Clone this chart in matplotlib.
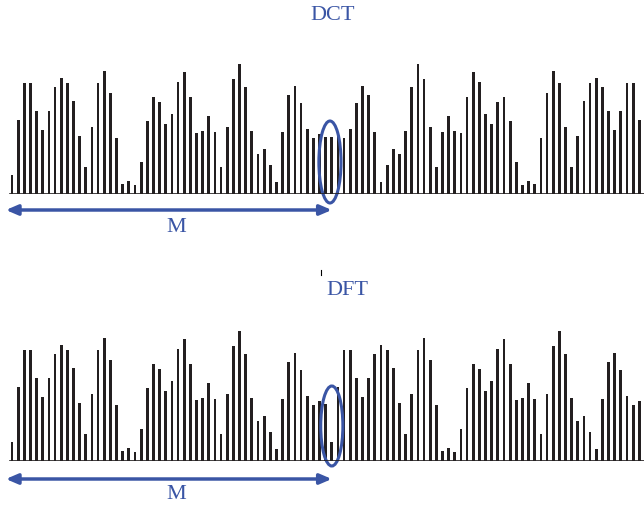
import numpy as np
import matplotlib.pyplot as plt
from matplotlib.patches import Ellipse

# one block of M samples
samples = [19, 74, 111, 111, 83, 64, 83, 107, 116, 111, 93, 58, 27, 67, 111, 123,
           101, 56, 10, 13, 9, 32, 73, 97, 92, 70, 80, 112, 122, 97, 61, 63,
           78, 62, 27, 67, 115, 130, 107, 63, 40, 45, 29, 12, 62, 99, 108, 91,
           65, 56, 60, 57]
titles = ['DCT', 'DFT']
block_label = 'M'

M = len(samples)
dct_ext = samples + samples[::-1]   # symmetric extension
dft_ext = samples + samples         # periodic extension

blue = '#3a55a5'
bar_col = '#231f20'
serif = 'Liberation Serif'

fig = plt.figure(figsize=(6.44, 5.06), dpi=100)
W, H = 644, 506
step = 6.15
x0 = 12

def make_ax(base_px):
    ax = fig.add_axes([0, 1 - base_px / H, 1, 135 / H])
    ax.set_xlim(-x0 / step, (W - x0) / step)
    ax.set_ylim(0, 135)
    ax.axis('off')
    return ax

ax1 = make_ax(195)
ax2 = make_ax(462)

for ax, vals, title, tpos, ell, arr_y, m_y in [
        (ax1, dct_ext, titles[0], (52.2, 180), (51.7, 32, 82), -16, -32),
        (ax2, dft_ext, titles[1], (54.5, 171), (52.0, 35, 80), -18, -33)]:
    idx = np.arange(len(vals))
    ax.bar(idx, vals, width=0.45, color=bar_col, clip_on=True)
    ax.plot([-0.3, len(vals)], [0, 0], color=bar_col, lw=1.2)
    ax.text(tpos[0], tpos[1], title, color=blue, fontsize=16, family=serif,
            ha='center', va='center', clip_on=False)
    ax.add_patch(Ellipse((ell[0], ell[1]), 3.6, ell[2], fill=False,
                         ec=blue, lw=2.2, clip_on=False))
    ax.annotate('', xy=(-1.0, arr_y), xytext=(M, arr_y),
                arrowprops=dict(arrowstyle='<|-|>,head_length=0.7,head_width=0.3',
                                color=blue, lw=2.5, shrinkA=0, shrinkB=0),
                annotation_clip=False)
    ax.text(26.7, m_y, block_label, color=blue, fontsize=16, family=serif,
            ha='center', va='center', clip_on=False)

# small stray tick above the DFT label
ax2.plot([50.2, 50.2], [186, 191], color='black', lw=0.8, clip_on=False)

fig.savefig('out.png', dpi=100)
